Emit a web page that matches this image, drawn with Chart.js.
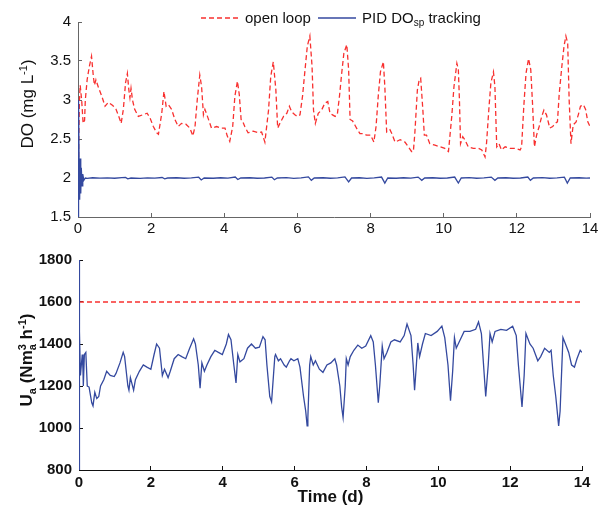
<!DOCTYPE html>
<html>
<head>
<meta charset="utf-8">
<script src="https://cdn.jsdelivr.net/npm/chart.js@4/dist/chart.umd.min.js"></script>
<style>
  html, body { margin: 0; padding: 0; background: #fff; }
  #wrap { position: relative; width: 606px; height: 508px; }
  canvas { position: absolute; left: 0; }
  #topChart { top: 0; width: 606px; height: 240px; }
  #botChart { top: 240px; width: 606px; height: 268px; }
</style>
</head>
<body>
<div id="wrap">
  <canvas id="topChart" width="606" height="240"></canvas>
  <canvas id="botChart" width="606" height="268"></canvas>
</div>
<script>
// axis ticks
const timeTicks = [0, 2, 4, 6, 8, 10, 12, 14];
const doTicks = [1.5, 2, 2.5, 3, 3.5, 4];
const uaTicks = [800, 1000, 1200, 1400, 1600, 1800];

// DO, open loop (red dashed) - time in days
const openT = [0, 0.02, 0.04, 0.06, 0.1, 0.14, 0.18, 0.2, 0.25, 0.31, 0.37, 0.42, 0.45, 0.49, 0.56, 0.65, 0.74, 0.83, 0.95, 1.04,
  1.13, 1.18, 1.24, 1.3, 1.35, 1.39, 1.42, 1.45, 1.49, 1.55, 1.65, 1.77, 1.89, 1.97, 2.06, 2.15, 2.2, 2.29, 2.35, 2.41,
  2.47, 2.56, 2.65, 2.74, 2.83, 2.95, 3.06, 3.14, 3.2, 3.26, 3.33, 3.38, 3.43, 3.47, 3.54, 3.65, 3.79, 3.92, 4.02, 4.08,
  4.15, 4.23, 4.29, 4.36, 4.41, 4.46, 4.5, 4.56, 4.65, 4.79, 4.93, 5.02, 5.11, 5.21, 5.27, 5.34, 5.41, 5.46, 5.52, 5.62,
  5.71, 5.78, 5.84, 5.93, 6.0, 6.07, 6.14, 6.19, 6.27, 6.34, 6.4, 6.44, 6.49, 6.57, 6.66, 6.75, 6.83, 6.89, 6.96, 7.03,
  7.09, 7.15, 7.21, 7.27, 7.35, 7.4, 7.44, 7.51, 7.57, 7.64, 7.71, 7.8, 7.89, 8.0, 8.09, 8.15, 8.21, 8.27, 8.35, 8.39,
  8.44, 8.49, 8.53, 8.58, 8.67, 8.81, 8.94, 9.03, 9.12, 9.17, 9.21, 9.28, 9.33, 9.37, 9.43, 9.47, 9.53, 9.62, 9.76, 9.9,
  10.03, 10.13, 10.22, 10.28, 10.36, 10.4, 10.43, 10.46, 10.52, 10.58, 10.67, 10.81, 10.95, 11.04, 11.13, 11.17, 11.24, 11.29, 11.36, 11.4,
  11.45, 11.51, 11.58, 11.68, 11.81, 11.95, 12.09, 12.13, 12.19, 12.25, 12.32, 12.38, 12.43, 12.48, 12.54, 12.61, 12.68, 12.74, 12.81, 12.9,
  12.98, 13.04, 13.11, 13.16, 13.23, 13.29, 13.34, 13.39, 13.43, 13.48, 13.54, 13.62, 13.68, 13.74, 13.82, 13.88, 13.94, 14.0];
const openDO = [1.55, 2.5, 3.0, 3.19, 3.0, 2.7, 2.74, 3.0, 3.26, 3.43, 3.56, 3.3, 3.19, 3.26, 3.16, 3.05, 2.92, 2.97, 2.93, 2.88,
  2.77, 2.7, 2.88, 3.22, 3.34, 3.13, 3.03, 3.15, 3.0, 2.88, 2.79, 2.81, 2.83, 2.77, 2.66, 2.58, 2.56, 2.83, 3.11, 2.92,
  2.94, 2.88, 2.75, 2.66, 2.7, 2.69, 2.64, 2.54, 2.66, 3.0, 3.32, 3.17, 2.81, 2.88, 2.79, 2.64, 2.66, 2.64, 2.64, 2.54,
  2.47, 2.66, 3.05, 3.24, 3.07, 2.75, 2.73, 2.66, 2.58, 2.6, 2.58, 2.59, 2.46, 2.87, 3.3, 3.49, 3.13, 2.64, 2.7, 2.79,
  2.83, 2.92, 2.85, 2.81, 2.79, 2.81, 3.05, 3.3, 3.69, 3.82, 3.43, 2.87, 2.7, 2.83, 2.87, 2.96, 2.98, 2.83, 2.81, 2.79,
  2.81, 3.05, 3.34, 3.6, 3.71, 3.39, 2.75, 2.73, 2.68, 2.62, 2.57, 2.57, 2.55, 2.55, 2.46, 2.66, 3.05, 3.36, 3.49, 3.17,
  2.59, 2.61, 2.62, 2.57, 2.46, 2.49, 2.46, 2.4, 2.34, 2.34, 2.57, 3.13, 3.26, 3.28, 2.87, 2.55, 2.55, 2.44, 2.42, 2.4,
  2.38, 2.34, 2.79, 3.17, 3.47, 3.39, 3.0, 2.44, 2.53, 2.49, 2.4, 2.38, 2.38, 2.36, 2.27, 2.44, 2.92, 3.22, 3.36, 3.17,
  2.4, 2.44, 2.36, 2.4, 2.38, 2.38, 2.36, 2.4, 2.92, 3.34, 3.53, 3.39, 2.94, 2.4, 2.55, 2.66, 2.79, 2.87, 2.81, 2.64,
  2.66, 2.7, 2.72, 3.09, 3.43, 3.69, 3.82, 3.73, 3.0, 2.44, 2.68, 2.72, 2.81, 2.92, 2.94, 2.88, 2.72, 2.66];

// DO, PID DOsp tracking (blue)
const pidT = [0, 0.01, 0.02, 0.03, 0.045, 0.06, 0.075, 0.09, 0.11, 0.13, 0.16, 0.2, 0.25, 0.4, 0.6, 0.8, 1.0, 1.2, 1.3, 1.36,
  1.45, 1.7, 1.9, 2.1, 2.3, 2.37, 2.45, 2.7, 2.9, 3.1, 3.3, 3.37, 3.45, 3.7, 3.9, 4.1, 4.3, 4.37, 4.45, 4.7,
  4.9, 5.1, 5.3, 5.37, 5.45, 5.7, 5.9, 6.1, 6.3, 6.38, 6.46, 6.7, 6.9, 7.1, 7.3, 7.4, 7.48, 7.7, 7.9, 8.1,
  8.3, 8.39, 8.47, 8.7, 8.9, 9.1, 9.3, 9.4, 9.48, 9.7, 9.9, 10.1, 10.3, 10.4, 10.48, 10.7, 10.9, 11.1, 11.3, 11.4,
  11.48, 11.7, 11.9, 12.1, 12.3, 12.37, 12.45, 12.7, 12.9, 13.1, 13.3, 13.38, 13.46, 13.7, 13.9, 14.0];
const pidDO = [1.5, 2.6, 3.0, 2.2, 1.72, 2.25, 1.8, 2.13, 1.9, 2.05, 1.97, 2.0, 1.995, 2.003, 1.998, 2.002, 1.997, 2.004, 2.008, 1.99,
  2.0, 1.996, 2.002, 1.998, 2.006, 1.99, 2.0, 2.003, 1.997, 2.002, 2.01, 1.975, 2.0, 1.997, 2.003, 1.998, 2.012, 1.98, 2.0, 2.003,
  1.997, 2.0, 2.012, 1.978, 2.0, 2.004, 1.996, 2.002, 2.014, 1.97, 2.0, 2.003, 1.997, 2.002, 2.015, 1.95, 2.0, 2.003, 1.996, 2.002,
  2.012, 1.935, 2.0, 1.997, 2.003, 1.998, 2.012, 1.97, 2.0, 2.003, 1.997, 2.0, 2.012, 1.935, 2.0, 2.004, 1.997, 2.002, 2.012, 1.97,
  2.0, 2.003, 1.997, 2.0, 2.012, 1.97, 2.0, 2.004, 1.997, 2.002, 2.01, 1.935, 2.0, 2.003, 1.998, 2.0];

// Ua, open loop (constant)
const uaOpenT = [0, 14];
const uaOpen = [1600, 1600];

// Ua, PID DOsp tracking
const uaPidT = [0, 0.005, 0.02, 0.04, 0.09, 0.11, 0.12, 0.15, 0.19, 0.23, 0.28, 0.355, 0.39, 0.44, 0.495, 0.55, 0.6, 0.69, 0.77, 0.87,
  0.98, 1.03, 1.14, 1.23, 1.27, 1.36, 1.39, 1.43, 1.52, 1.57, 1.68, 1.79, 1.89, 2.0, 2.09, 2.16, 2.24, 2.32, 2.38, 2.48,
  2.54, 2.65, 2.76, 2.86, 2.97, 3.08, 3.19, 3.24, 3.32, 3.37, 3.42, 3.49, 3.56, 3.67, 3.78, 3.88, 3.99, 4.1, 4.16, 4.23,
  4.31, 4.37, 4.42, 4.48, 4.59, 4.69, 4.8, 4.91, 5.02, 5.12, 5.18, 5.23, 5.31, 5.36, 5.45, 5.47, 5.55, 5.61, 5.71, 5.77,
  5.86, 5.9, 5.98, 6.09, 6.15, 6.25, 6.31, 6.35, 6.37, 6.42, 6.45, 6.52, 6.58, 6.69, 6.79, 6.9, 7.01, 7.12, 7.17, 7.26,
  7.31, 7.35, 7.41, 7.44, 7.49, 7.55, 7.65, 7.76, 7.87, 7.98, 8.12, 8.19, 8.25, 8.33, 8.37, 8.44, 8.49, 8.57, 8.68, 8.78,
  8.94, 9.05, 9.13, 9.24, 9.3, 9.34, 9.39, 9.43, 9.48, 9.56, 9.64, 9.8, 9.97, 10.1, 10.18, 10.27, 10.34, 10.4, 10.45, 10.5,
  10.61, 10.72, 10.88, 11.04, 11.12, 11.2, 11.26, 11.32, 11.39, 11.44, 11.5, 11.58, 11.74, 11.9, 12.07, 12.17, 12.23, 12.33, 12.39, 12.44,
  12.55, 12.64, 12.77, 12.85, 12.96, 13.09, 13.14, 13.2, 13.27, 13.35, 13.39, 13.47, 13.54, 13.63, 13.71, 13.79, 13.86, 13.95, 14.0];
const uaPid = [800, 1800, 1460, 1250, 1350, 1280, 1200, 1350, 1360, 1200, 1195, 1120, 1105, 1170, 1140, 1150, 1200, 1230, 1270, 1250,
  1245, 1260, 1310, 1360, 1340, 1200, 1180, 1240, 1180, 1230, 1270, 1300, 1290, 1280, 1350, 1400, 1380, 1250, 1280, 1240,
  1270, 1330, 1350, 1340, 1330, 1380, 1425, 1400, 1300, 1190, 1310, 1270, 1300, 1340, 1370, 1360, 1350, 1400, 1445, 1420,
  1300, 1215, 1350, 1315, 1330, 1380, 1400, 1380, 1385, 1435, 1420, 1300, 1150, 1125, 1340, 1350, 1320, 1330, 1300, 1290,
  1320, 1330, 1320, 1330, 1290, 1150, 1080, 1010, 1050, 1300, 1340, 1300, 1320, 1280, 1265, 1300, 1310, 1330, 1300, 1200,
  1100, 1050, 1200, 1330, 1300, 1340, 1370, 1395, 1380, 1390, 1440, 1410, 1300, 1120, 1200, 1390, 1330, 1360, 1410, 1420,
  1410, 1440, 1495, 1440, 1300, 1180, 1300, 1405, 1340, 1400, 1450, 1440, 1460, 1485, 1430, 1300, 1130, 1270, 1430, 1380,
  1420, 1460, 1460, 1470, 1505, 1450, 1300, 1150, 1300, 1450, 1410, 1460, 1470, 1465, 1485, 1440, 1300, 1100, 1250, 1450,
  1400, 1380, 1320, 1340, 1380, 1360, 1370, 1250, 1150, 1010, 1080, 1430, 1400, 1360, 1300, 1290, 1330, 1370, 1360];

const RED = '#f8302f';
const BLUE = '#34499f';
const FAMILY = '"Liberation Sans", Arial, sans-serif';

Chart.defaults.font.family = FAMILY;
Chart.defaults.color = '#111';

const pts = (xs, ys) => xs.map((x, i) => ({ x: x, y: ys[i] }));

// draws a run of text pieces (for sub/superscripts), optionally rotated
function richText(ctx, parts, x, y, rot, center) {
  ctx.save();
  ctx.translate(x, y);
  ctx.rotate(rot);
  ctx.fillStyle = '#111';
  ctx.textBaseline = 'alphabetic';
  ctx.textAlign = 'left';
  let total = 0;
  parts.forEach(p => {
    ctx.font = p.f;
    p.w = ctx.measureText(p.t).width;
    if (!p.keep) total += p.w;
  });
  let cx = center ? -total / 2 : 0;
  parts.forEach(p => {
    ctx.font = p.f;
    ctx.fillText(p.t, cx, p.dy || 0);
    if (!p.keep) cx += p.w;
  });
  ctx.restore();
}

const f = (size, bold) => (bold ? 'bold ' : '') + size + 'px ' + FAMILY;

function xScale(opts) {
  return {
    type: 'linear', min: 0, max: 14,
    afterBuildTicks: s => { s.ticks = timeTicks.map(v => ({ value: v })); },
    afterFit: s => { s.height = opts.height; },
    grid: { drawOnChartArea: false, tickLength: -4, color: opts.line },
    border: { color: opts.line, width: 1 },
    ticks: { padding: opts.pad, maxRotation: 0, font: { size: 15, weight: opts.bold ? 'bold' : 'normal' }, color: '#111', callback: v => String(v) },
    title: opts.title || { display: false }
  };
}

function yScale(min, max, tickVals, width, line, bold) {
  return {
    min: min, max: max,
    afterBuildTicks: s => { s.ticks = tickVals.map(v => ({ value: v })); },
    afterFit: s => { s.width = width; },
    grid: { drawOnChartArea: false, tickLength: -4, color: line },
    border: { color: line, width: 1 },
    ticks: { padding: 11, font: { size: 15, weight: bold ? 'bold' : 'normal' }, color: '#111', callback: v => String(v) }
  };
}

const topDecor = {
  id: 'topDecor',
  afterDraw(chart) {
    const ctx = chart.ctx;
    // y title
    richText(ctx, [
      { t: 'DO (mg L', f: f(17) },
      { t: '-1', f: f(11), dy: -6 },
      { t: ')', f: f(17) }
    ], 33, 104, -Math.PI / 2, true);
    // legend
    ctx.save();
    ctx.lineWidth = 1.3;
    ctx.strokeStyle = RED;
    ctx.setLineDash([5, 3]);
    ctx.beginPath(); ctx.moveTo(201, 18); ctx.lineTo(239, 18); ctx.stroke();
    ctx.setLineDash([]);
    ctx.strokeStyle = BLUE;
    ctx.beginPath(); ctx.moveTo(318, 18); ctx.lineTo(356, 18); ctx.stroke();
    ctx.restore();
    richText(ctx, [{ t: 'open loop', f: f(15) }], 245, 23, 0, false);
    richText(ctx, [
      { t: 'PID DO', f: f(15) },
      { t: 'sp', f: f(10), dy: 3 },
      { t: ' tracking', f: f(15) }
    ], 362, 23, 0, false);
  }
};

const botDecor = {
  id: 'botDecor',
  afterDraw(chart) {
    const B = true;
    richText(chart.ctx, [
      { t: 'U', f: f(17, B) },
      { t: 'a', f: f(11, B), dy: 4 },
      { t: ' (Nm', f: f(17, B) },
      { t: '3', f: f(11, B), dy: -6, keep: true },
      { t: 'a', f: f(11, B), dy: 4 },
      { t: ' h', f: f(17, B) },
      { t: '-1', f: f(11, B), dy: -6 },
      { t: ')', f: f(17, B) }
    ], 32, 120, -Math.PI / 2, true);
  }
};

new Chart(document.getElementById('topChart'), {
  type: 'line',
  data: {
    datasets: [
      { label: 'open loop', data: pts(openT, openDO), borderColor: RED, borderDash: [5, 3], borderWidth: 1.3, pointRadius: 0, tension: 0, order: 1 },
      { label: 'PID DOsp tracking', data: pts(pidT, pidDO), borderColor: BLUE, borderWidth: 1.3, pointRadius: 0, tension: 0, order: 0 }
    ]
  },
  options: {
    responsive: false,
    animation: false,
    layout: { padding: { left: 0, right: 16, top: 22, bottom: 0 } },
    plugins: { legend: { display: false }, tooltip: { enabled: false } },
    scales: {
      x: xScale({ height: 23, pad: 7, line: '#666', bold: false }),
      y: yScale(1.5, 4, doTicks, 78, '#666', false)
    }
  },
  plugins: [topDecor]
});

new Chart(document.getElementById('botChart'), {
  type: 'line',
  data: {
    datasets: [
      { label: 'open loop', data: pts(uaOpenT, uaOpen), borderColor: RED, borderDash: [5, 3], borderWidth: 1.3, pointRadius: 0, tension: 0, order: 1 },
      { label: 'PID DOsp tracking', data: pts(uaPidT, uaPid), borderColor: BLUE, borderWidth: 1.3, pointRadius: 0, tension: 0, order: 0 }
    ]
  },
  options: {
    responsive: false,
    animation: false,
    layout: { padding: { left: 0, right: 24, top: 11, bottom: 0 } },
    plugins: { legend: { display: false }, tooltip: { enabled: false } },
    scales: {
      x: xScale({
        height: 38, pad: 8, line: '#111', bold: true,
        title: { display: true, text: 'Time (d)', font: { size: 17, weight: 'bold' }, color: '#111', padding: { top: 0, bottom: 0 } }
      }),
      y: yScale(800, 1800, uaTicks, 79, '#111', true)
    }
  },
  plugins: [botDecor]
});
</script>
</body>
</html>
